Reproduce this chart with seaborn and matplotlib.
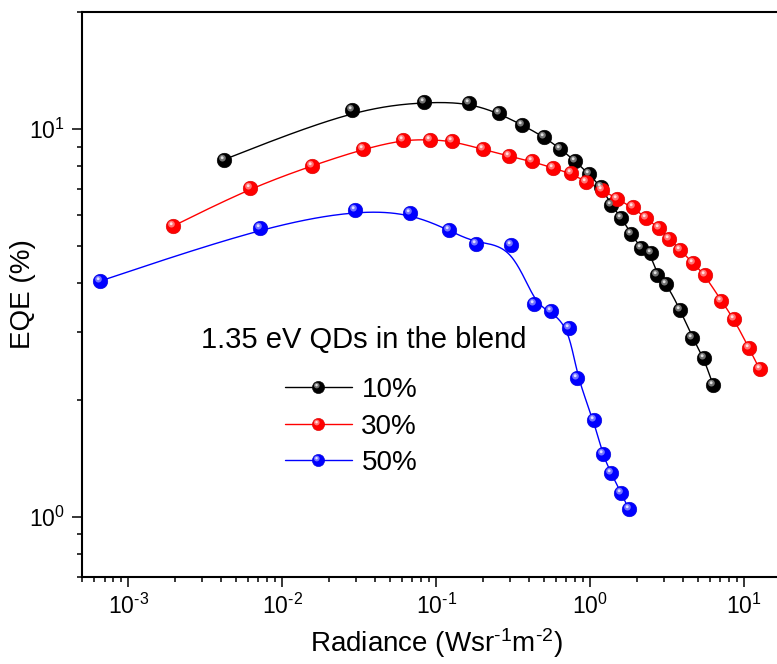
import numpy as np
import pandas as pd
import matplotlib
matplotlib.use("Agg")
import matplotlib.pyplot as plt
import seaborn as sns
from matplotlib.path import Path
from matplotlib.lines import Line2D
from matplotlib.legend_handler import HandlerTuple
from matplotlib.ticker import LogLocator, NullFormatter, FuncFormatter

# ---------------- data ----------------
rad_10 = [0.00416, 0.0282, 0.0827, 0.162, 0.255, 0.362, 0.497, 0.638, 0.791,
          0.979, 1.179, 1.369, 1.590, 1.846, 2.121, 2.464, 2.707, 3.116, 3.84,
          4.60, 5.44, 6.25]
eqe_10 = [8.32, 11.2, 11.74, 11.67, 10.95, 10.22, 9.54, 8.88, 8.27,
          7.64, 7.06, 6.36, 5.89, 5.35, 4.93, 4.77, 4.20, 3.99, 3.41,
          2.89, 2.57, 2.19]

rad_30 = [0.00195, 0.00613, 0.01566, 0.0336, 0.0611, 0.0909, 0.1257, 0.2008,
          0.2961, 0.4176, 0.5717, 0.745, 0.942, 1.189, 1.497, 1.891, 2.31,
          2.79, 3.26, 3.80, 4.64, 5.52, 7.09, 8.52, 10.71, 12.57]
eqe_30 = [5.61, 7.02, 8.04, 8.87, 9.37, 9.37, 9.30, 8.85,
          8.50, 8.24, 7.92, 7.67, 7.30, 6.96, 6.59, 6.27, 5.87,
          5.55, 5.21, 4.88, 4.51, 4.20, 3.60, 3.24, 2.72, 2.40]

rad_50 = [0.000658, 0.0072, 0.0296, 0.0671, 0.1206, 0.1805, 0.3069, 0.4328,
          0.5524, 0.726, 0.821, 1.05, 1.202, 1.361, 1.580, 1.781]
eqe_50 = [4.05, 5.56, 6.17, 6.06, 5.48, 5.06, 5.02, 3.54,
          3.38, 3.07, 2.28, 1.775, 1.447, 1.296, 1.153, 1.044]

series_labels = ["10%", "30%", "50%"]
series_colors = ["#000000", "#ff0000", "#0000ff"]
legend_title = "1.35 eV QDs in the blend"

df = pd.concat([
    pd.DataFrame({"radiance": r, "eqe": e, "blend": lab})
    for r, e, lab in [(rad_10, eqe_10, "10%"), (rad_30, eqe_30, "30%"),
                      (rad_50, eqe_50, "50%")]
], ignore_index=True)

# ---------------- style ----------------
sns.set_theme(style="ticks")
plt.rcParams["font.family"] = ["Liberation Sans", "DejaVu Sans"]
plt.rcParams["mathtext.fontset"] = "custom"
plt.rcParams["mathtext.rm"] = "Liberation Sans"
plt.rcParams["mathtext.it"] = "Liberation Sans:italic"
plt.rcParams["mathtext.bf"] = "Liberation Sans:bold"
plt.rcParams["mathtext.default"] = "regular"
plt.rcParams["text.color"] = "black"
plt.rcParams["axes.labelcolor"] = "black"
plt.rcParams["xtick.color"] = "black"
plt.rcParams["ytick.color"] = "black"

W, H = 777, 664
fig = plt.figure(figsize=(W / 100, H / 100), dpi=100)
ax_l, ax_r, ax_t, ax_b = 82, 790.7, 12, 576.7
ax = fig.add_axes([ax_l / W, 1 - ax_b / H, (ax_r - ax_l) / W, (ax_b - ax_t) / H])
ax.set_xscale("log")
ax.set_yscale("log")
ax.set_xlim(5e-4, 20)
ax.set_ylim(0.7, 20)


def ball_part(cx, cy, r):
    """Off-centre disc as a marker path (unit = ball radius)."""
    circ = Path.circle((cx, cy), r)
    verts = np.vstack([[1.0, 1.0], circ.vertices])
    codes = np.concatenate([[Path.MOVETO], circ.codes])
    return Path(verts, codes)


GLOSS_MID = ball_part(-0.28, 0.32, 0.46)
GLOSS_TOP = ball_part(-0.32, 0.38, 0.2)


def tint(hex_color, f):
    rgb = np.array(matplotlib.colors.to_rgb(hex_color))
    return tuple(rgb + (1 - rgb) * f)


def shade(hex_color, f):
    rgb = np.array(matplotlib.colors.to_rgb(hex_color))
    return tuple(rgb * (1 - f))


def smooth_curve(x, y, n=30):
    """Clamped uniform cubic B-spline over the points, built in display space."""
    pts = ax.transData.transform(np.column_stack([x, y]))
    Q = np.vstack([pts[:1], pts[:1], pts, pts[-1:], pts[-1:]])
    out = []
    for i in range(len(Q) - 3):
        q0, q1, q2, q3 = Q[i], Q[i + 1], Q[i + 2], Q[i + 3]
        t = np.linspace(0, 1, n, endpoint=(i == len(Q) - 4))[:, None]
        b0 = (1 - t) ** 3
        b1 = 3 * t ** 3 - 6 * t ** 2 + 4
        b2 = -3 * t ** 3 + 3 * t ** 2 + 3 * t + 1
        b3 = t ** 3
        out.append((b0 * q0 + b1 * q1 + b2 * q2 + b3 * q3) / 6.0)
    curve = ax.transData.inverted().transform(np.vstack(out))
    return curve[:, 0], curve[:, 1]


MS = 10.5
for lab, col in zip(series_labels, series_colors):
    sub = df[df["blend"] == lab]
    cx, cy = smooth_curve(sub["radiance"].to_numpy(), sub["eqe"].to_numpy())
    sns.lineplot(x=cx, y=cy, sort=False, estimator=None, color=col, lw=1.0,
                 ax=ax, legend=False, zorder=2)
    sns.scatterplot(data=sub, x="radiance", y="eqe", color=col, s=MS ** 2,
                    edgecolor=shade(col, 0.15), linewidth=0.4, ax=ax,
                    legend=False, zorder=3)
    ax.plot(sub["radiance"], sub["eqe"], ls="none", marker=GLOSS_MID, ms=MS,
            mfc=tint(col, 0.45), mew=0, zorder=4)
    ax.plot(sub["radiance"], sub["eqe"], ls="none", marker=GLOSS_TOP, ms=MS,
            mfc=tint(col, 0.88), mew=0, zorder=5)

# ---------------- axes decoration ----------------
for side in ("left", "bottom", "top"):
    ax.spines[side].set_linewidth(1.5)
    ax.spines[side].set_color("black")
ax.spines["right"].set_visible(False)


def pow10_label(v, pos):
    e = int(round(np.log10(v)))
    sign = r"\text{-}" if e < 0 else ""
    return r"$\mathdefault{10^{%s%d}}$" % (sign, abs(e))


ax.xaxis.set_major_locator(LogLocator(base=10, numticks=20))
ax.xaxis.set_minor_locator(LogLocator(base=10, subs=np.arange(2, 10), numticks=50))
ax.yaxis.set_major_locator(LogLocator(base=10, numticks=20))
ax.yaxis.set_minor_locator(LogLocator(base=10, subs=np.arange(2, 10), numticks=50))
ax.xaxis.set_major_formatter(FuncFormatter(pow10_label))
ax.yaxis.set_major_formatter(FuncFormatter(pow10_label))
ax.xaxis.set_minor_formatter(NullFormatter())
ax.yaxis.set_minor_formatter(NullFormatter())
ax.tick_params(which="major", direction="out", length=7.2, width=1.1,
               labelsize=16.5, color="black", labelcolor="black")
ax.tick_params(which="minor", direction="out", length=3.6, width=1.1,
               color="black")
ax.tick_params(axis="x", which="major", pad=5)
ax.tick_params(axis="y", which="major", pad=5)
ax.tick_params(top=False, right=False, which="both")

ax.set_xlabel(r"Radiance (Wsr$^{\text{-}1}$m$^{\text{-}2}$)", fontsize=20,
              labelpad=5, color="black")
ax.set_ylabel("EQE (%)", fontsize=20, color="black")
ax.yaxis.set_label_coords((36 - ax_l) / (ax_r - ax_l), 0.5)

# ---------------- legend ----------------
handles = []
for col in series_colors:
    handles.append((
        Line2D([], [], color=col, lw=1.0),
        Line2D([], [], ls="none", marker="o", ms=8.8, mfc=col,
               mec=shade(col, 0.15), mew=0.4),
        Line2D([], [], ls="none", marker=GLOSS_MID, ms=8.8,
               mfc=tint(col, 0.45), mew=0),
        Line2D([], [], ls="none", marker=GLOSS_TOP, ms=8.8,
               mfc=tint(col, 0.88), mew=0),
    ))


def to_axes(px, py):
    return (px - ax_l) / (ax_r - ax_l), (ax_b - py) / (ax_b - ax_t)


ax.text(*to_axes(363.5, 348), legend_title, transform=ax.transAxes,
        ha="center", va="baseline", fontsize=21, color="black")
leg = ax.legend(handles, series_labels,
                handler_map={tuple: HandlerTuple(ndivide=1)},
                loc="upper left", bbox_to_anchor=to_axes(285, 377),
                frameon=False, fontsize=20, handlelength=2.4,
                handletextpad=0.35, labelspacing=0.38, borderpad=0,
                borderaxespad=0)
for txt in leg.get_texts():
    txt.set_color("black")

fig.savefig("out.png", dpi=100)
